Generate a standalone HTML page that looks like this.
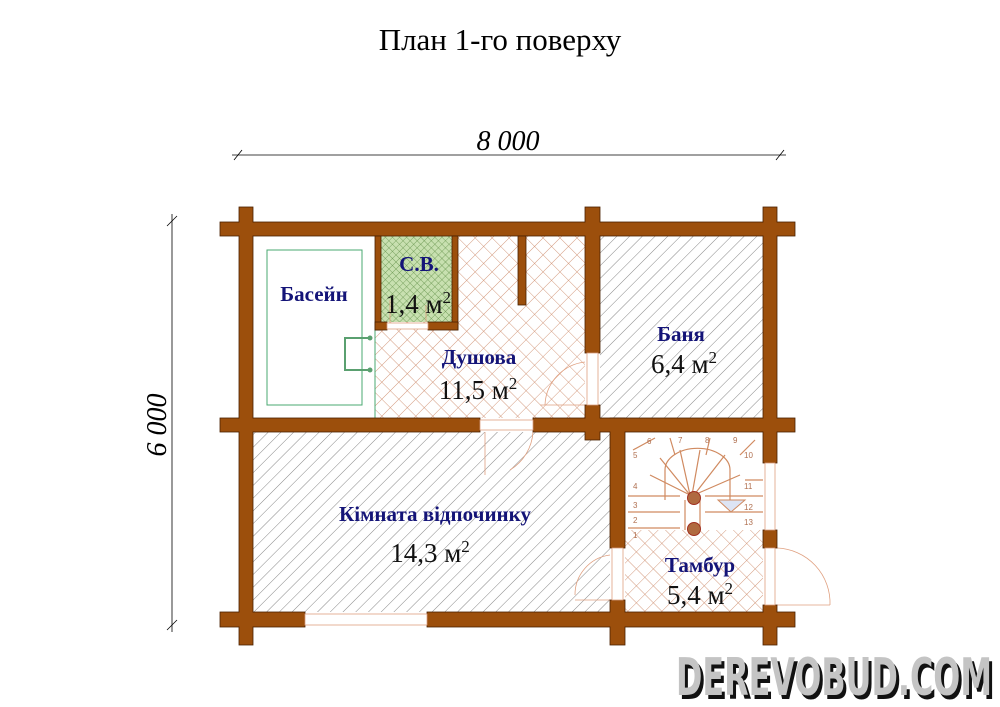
<!DOCTYPE html>
<html><head><meta charset="utf-8"><style>body{margin:0;background:#fff}svg{display:block}</style></head><body>
<svg width="1000" height="707" viewBox="0 0 1000 707" xmlns="http://www.w3.org/2000/svg">
<defs>
<pattern id="diag" width="9" height="9" patternUnits="userSpaceOnUse" patternTransform="rotate(45)"><rect width="9" height="9" fill="#fff"/><line x1="0" y1="0" x2="0" y2="9" stroke="#7a7a7a" stroke-width="0.9"/></pattern>
<pattern id="cross" width="12" height="12" patternUnits="userSpaceOnUse" patternTransform="rotate(45)"><rect width="12" height="12" fill="#fff"/><line x1="0" y1="0" x2="0" y2="12" stroke="#d09070" stroke-width="0.9"/><line x1="0" y1="0" x2="12" y2="0" stroke="#d09070" stroke-width="0.9"/></pattern>
<pattern id="green" width="5" height="5" patternUnits="userSpaceOnUse" patternTransform="rotate(45)"><rect width="5" height="5" fill="#c8e0b0"/><line x1="0" y1="0" x2="0" y2="5" stroke="#5a8a40" stroke-width="0.7"/><line x1="0" y1="0" x2="5" y2="0" stroke="#5a8a40" stroke-width="0.7"/></pattern>
</defs>
<text x="500" y="50" text-anchor="middle" font-family="Liberation Serif, serif" font-size="31">План 1-го поверху</text>
<g stroke="#000" stroke-width="0.8">
<line x1="232" y1="155" x2="786" y2="155"/><line x1="234" y1="160" x2="242" y2="150"/><line x1="776" y1="160" x2="784" y2="150"/>
<line x1="172" y1="214" x2="172" y2="632"/><line x1="167" y1="226" x2="177" y2="216"/><line x1="167" y1="630" x2="177" y2="620"/>
</g>
<text x="508" y="150" text-anchor="middle" font-family="Liberation Serif, serif" font-style="italic" font-size="28">8 000</text>
<text transform="translate(166,425) rotate(-90)" text-anchor="middle" font-family="Liberation Serif, serif" font-style="italic" font-size="28">6 000</text>
<rect x="253" y="236" width="122" height="182" fill="#fff"/>
<rect x="375" y="236" width="210" height="182" fill="url(#cross)"/>
<rect x="380" y="236" width="73" height="86" fill="url(#green)"/>
<rect x="600" y="236" width="163" height="182" fill="url(#diag)"/>
<rect x="253" y="432" width="357" height="180" fill="url(#diag)"/>
<rect x="625" y="432" width="138" height="180" fill="#fff"/>
<rect x="625" y="530" width="138" height="82" fill="url(#cross)"/>
<rect x="267" y="250" width="95" height="155" fill="none" stroke="#4aa870" stroke-width="1"/>
<line x1="375" y1="330" x2="375" y2="418" stroke="#4aa870"/>
<g stroke="#5aa070" stroke-width="2" fill="none"><path d="M370 338 H345 V370 H370"/></g>
<circle cx="370" cy="338" r="2.5" fill="#5aa070"/><circle cx="370" cy="370" r="2.5" fill="#5aa070"/>
<g stroke="#d08a60" stroke-width="1.2" fill="none">
<line x1="628" y1="528" x2="680" y2="528"/><line x1="628" y1="512" x2="680" y2="512"/><line x1="628" y1="496" x2="680" y2="496"/>
<line x1="705" y1="512" x2="763" y2="512"/><line x1="705" y1="496" x2="763" y2="496"/><line x1="745" y1="480" x2="763" y2="480"/>
<line x1="690" y1="495" x2="650" y2="475"/><line x1="690" y1="495" x2="660" y2="458"/><line x1="690" y1="495" x2="680" y2="450"/><line x1="692" y1="495" x2="700" y2="450"/><line x1="694" y1="495" x2="725" y2="455"/><line x1="694" y1="495" x2="740" y2="475"/>
<line x1="655" y1="438" x2="633" y2="450"/><line x1="670" y1="438" x2="675" y2="455"/><line x1="710" y1="438" x2="706" y2="455"/><line x1="755" y1="440" x2="740" y2="455"/>
<path d="M665 500 V470 A30 20 0 0 1 730 470 V500"/>
<line x1="685" y1="500" x2="685" y2="530"/><line x1="700" y1="500" x2="700" y2="530"/>
</g>
<path d="M718 500 L745 500 L731 512 Z" fill="#dde4f4" stroke="#d08a60"/>
<circle cx="694" cy="498" r="6.5" fill="#b06a40" stroke="#a03020"/><circle cx="694" cy="529" r="6.5" fill="#b06a40" stroke="#a03020"/>
<g font-family="Liberation Sans, sans-serif" font-size="8" fill="#b07050">
<text x="633" y="538">1</text><text x="633" y="523">2</text><text x="633" y="508">3</text><text x="633" y="489">4</text><text x="633" y="458">5</text><text x="647" y="444">6</text><text x="678" y="443">7</text><text x="705" y="443">8</text><text x="733" y="443">9</text><text x="744" y="458">10</text><text x="744" y="489">11</text><text x="744" y="510">12</text><text x="744" y="525">13</text>
</g>
<g stroke="#e0a080" stroke-width="0.8" fill="none">
<path d="M485 432 V475 M533 432 A48 48 0 0 1 510 470"/>
<path d="M585 405 H540 M585 362 A45 45 0 0 0 545 405"/>
<path d="M610 600 H575 M610 555 A40 40 0 0 0 575 595"/>
<path d="M777 605 H830 M777 548 A55 55 0 0 1 830 605"/>
<path d="M390 322 V300 M426 322 V305"/>
</g>
<g fill="#9c4f0c" stroke="#4a2000" stroke-width="0.8">
<rect x="220" y="222" width="575" height="14"/>
<rect x="220" y="418" width="260" height="14"/><rect x="533" y="418" width="262" height="14"/>
<rect x="220" y="612" width="85" height="15"/><rect x="427" y="612" width="368" height="15"/>
<rect x="239" y="207" width="14" height="438"/>
<rect x="585" y="207" width="15" height="146"/><rect x="585" y="405" width="15" height="35"/>
<rect x="610" y="418" width="15" height="130"/><rect x="610" y="600" width="15" height="45"/>
<rect x="763" y="207" width="14" height="256"/><rect x="763" y="530" width="14" height="18"/><rect x="763" y="605" width="14" height="40"/>
<rect x="375" y="236" width="6" height="94"/><rect x="452" y="236" width="6" height="94"/>
<rect x="375" y="322" width="12" height="8"/><rect x="428" y="322" width="30" height="8"/>
<rect x="518" y="236" width="8" height="69"/>
</g>
<g fill="#9c4f0c">
<rect x="220.5" y="222.5" width="574" height="13"/><rect x="220.5" y="418.5" width="259" height="13"/><rect x="533.5" y="418.5" width="261" height="13"/><rect x="220.5" y="612.5" width="84" height="14"/><rect x="427.5" y="612.5" width="367" height="14"/>
<rect x="239.5" y="207.5" width="13" height="437"/><rect x="585.5" y="207.5" width="14" height="145"/><rect x="585.5" y="405.5" width="14" height="34"/><rect x="610.5" y="418.5" width="14" height="129"/><rect x="610.5" y="600.5" width="14" height="44"/><rect x="763.5" y="207.5" width="13" height="255"/><rect x="763.5" y="530.5" width="13" height="17"/><rect x="763.5" y="605.5" width="13" height="39"/>
</g>
<g fill="#fff" stroke="#e0a080" stroke-width="0.8">
<rect x="305" y="614" width="122" height="11"/><rect x="480" y="420" width="53" height="10"/>
<rect x="587" y="353" width="11" height="52"/><rect x="612" y="548" width="11" height="52"/>
<rect x="765" y="463" width="10" height="67"/><rect x="765" y="548" width="10" height="57"/>
<rect x="387" y="323" width="41" height="6"/>
</g>
<g font-family="Liberation Serif, serif" font-weight="bold" fill="#141478" text-anchor="middle" font-size="21">
<text x="314" y="301">Басейн</text><text x="419" y="271">С.В.</text><text x="479" y="364">Душова</text><text x="681" y="341">Баня</text><text x="435" y="521">Кімната відпочинку</text><text x="700" y="572">Тамбур</text>
</g>
<g font-family="Liberation Serif, serif" fill="#111" text-anchor="middle" font-size="27">
<text x="418" y="313">1,4 м<tspan font-size="17" dy="-10">2</tspan></text>
<text x="478" y="399">11,5 м<tspan font-size="17" dy="-10">2</tspan></text>
<text x="684" y="373">6,4 м<tspan font-size="17" dy="-10">2</tspan></text>
<text x="430" y="562">14,3 м<tspan font-size="17" dy="-10">2</tspan></text>
<text x="700" y="604">5,4 м<tspan font-size="17" dy="-10">2</tspan></text>
</g>
<text x="679" y="699" font-family="DejaVu Sans Condensed, Liberation Sans Narrow, sans-serif" font-weight="bold" font-size="52" textLength="316" lengthAdjust="spacingAndGlyphs" fill="#111">DEREVOBUD.COM</text>
<text x="676" y="695" font-family="DejaVu Sans Condensed, Liberation Sans Narrow, sans-serif" font-weight="bold" font-size="52" textLength="316" lengthAdjust="spacingAndGlyphs" fill="#c4c4c4">DEREVOBUD.COM</text>
</svg>
</body></html>
